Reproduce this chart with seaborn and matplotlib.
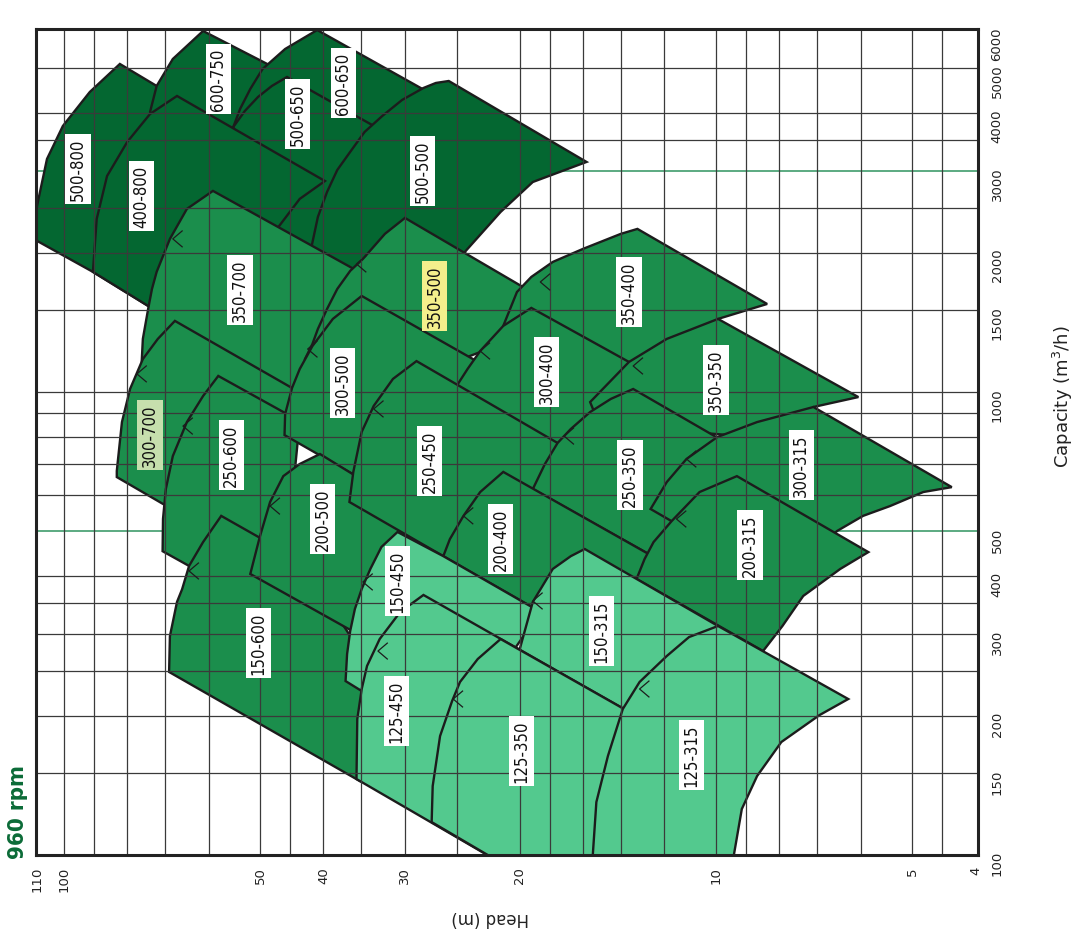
import matplotlib
matplotlib.use('Agg')
import matplotlib.pyplot as plt
from matplotlib.ticker import FixedLocator, NullLocator
import seaborn as sns

# pump areas, outline points as (head m, capacity m3/h)
h_500_800 = [110.0, 110.8, 110.0, 106.2, 100.4, 91.3, 82.1, 72.1, 64.1, 61.9, 74.3, 90.3]
q_500_800 = [2120, 2307, 2522, 3186, 3754, 4445, 5110, 4580, 3985, 2612, 1534, 1817]

h_600_750 = [71.3, 73.8, 72.1, 68.1, 61.2, 48.8, 39.1, 43.5]
q_600_750 = [3519, 4025, 4580, 5238, 6020, 5110, 4337, 3349]

h_600_650 = [55.0, 53.7, 51.8, 49.6, 45.8, 40.9, 28.2, 23.8, 32.8]
q_600_650 = [3735, 4085, 4512, 4984, 5505, 6050, 4512, 3945, 3349]

h_500_650 = [55.0, 52.8, 50.4, 48.0, 45.5, 33.9, 28.4, 38.4, 46.6]
q_500_650 = [3735, 4045, 4337, 4580, 4790, 3791, 3349, 1919, 2141]

h_400_800 = [90.3, 89.1, 85.9, 80.0, 73.8, 67.1, 39.8, 43.5, 46.9, 50.1, 55.6, 74.3]
q_400_800 = [1817, 2364, 2927, 3467, 3985, 4358, 2855, 2612, 2272, 1938, 1270, 1534]

h_500_500 = [40.5, 41.7, 40.8, 39.5, 38.1, 36.4, 34.6, 32.5, 30.3, 28.1, 26.9, 25.7,
             15.8, 19.1, 21.4, 24.2, 26.5]
q_500_500 = [1588, 2068, 2388, 2704, 3016, 3300, 3643, 3945, 4273, 4535, 4649, 4695,
             3139, 2841, 2448, 2017, 1669]

h_350_700 = [76.0, 75.7, 74.3, 73.3, 72.1, 68.8, 64.8, 59.1, 36.4, 32.8, 39.1, 73.8]
q_350_700 = [1166, 1302, 1511, 1669, 1817, 2141, 2485, 2718, 1862, 1711, 874, 1015]

h_300_700 = [83.0, 83.0, 81.5, 79.2, 75.7, 71.8, 67.6, 44.7, 43.5, 61.9, 70.5]
q_300_700 = [655, 675, 861, 1015, 1178, 1302, 1424, 1020, 966, 519, 573]

h_250_600 = [70.6, 70.5, 69.8, 68.1, 64.8, 61.2, 58.0, 45.5, 43.5, 45.0, 55.6, 64.3]
q_250_600 = [453, 532, 617, 727, 861, 980, 1083, 896, 866, 532, 375, 421]

h_350_500 = [42.7, 41.6, 40.8, 39.5, 38.1, 36.4, 34.8, 32.2, 30.0, 19.9, 18.6, 21.4, 35.2]
q_350_500 = [1178, 1269, 1368, 1511, 1669, 1826, 1938, 2195, 2376, 1694, 1588, 1269, 966]

h_350_400 = [21.2, 20.2, 19.2, 17.8, 16.0, 14.0, 13.2, 8.35, 9.93, 9.93, 14.0, 20.0]
q_350_400 = [1389, 1644, 1772, 1909, 2037, 2195, 2250, 1549, 1438, 1334, 1110, 1302]

h_300_500 = [45.9, 45.8, 44.7, 43.5, 41.6, 38.7, 34.95, 23.6, 22.2, 28.4, 36.1]
q_300_500 = [807, 896, 1020, 1121, 1256, 1438, 1612, 1178, 1121, 874, 665]

h_300_400 = [25.0, 24.05, 23.0, 21.2, 19.2, 13.6, 13.1, 14.0, 17.3, 23.8]
q_300_400 = [1030, 1121, 1226, 1389, 1519, 1161, 1067, 791.5, 731, 966]

h_150_600 = [69.0, 68.8, 67.1, 65.9, 64.3, 61.2, 57.4, 50.3, 43.5, 34.5, 34.5, 35.2]
q_150_600 = [248.5, 297, 352, 375, 421, 474, 540, 486, 436, 265, 217, 144.5]

h_200_500 = [51.8, 50.1, 48.3, 46.1, 43.5, 40.5, 36.1, 30.5, 28.4, 31.6, 35.7]
q_200_500 = [404.5, 486, 578.6, 658, 699, 734.6, 665, 682, 532, 436, 301.7]

h_350_350 = [9.93, 6.05, 7.09, 7.97, 12.6, 15.33, 15.6, 13.6, 11.9]
q_350_350 = [1438, 975, 928, 791.5, 832, 896, 951, 1161, 1302]

h_250_450 = [36.5, 36.0, 34.95, 33.5, 31.3, 28.8, 17.5, 15.1, 20.0, 26.2]
q_250_450 = [578.6, 672, 820, 933, 1067, 1166, 776, 682, 436, 442]

h_250_350 = [19.1, 18.3, 17.5, 16.7, 15.6, 14.5, 13.4, 9.99, 9.19, 11.0, 12.7]
q_250_350 = [617, 699, 776, 832, 905, 966, 1015, 799, 731, 481, 447]

h_200_400 = [26.2, 25.6, 24.4, 23.0, 21.2, 12.7, 10.6, 15.1, 18.6]
q_200_400 = [442, 481, 540, 608, 672, 447, 385, 278.5, 335]

h_300_315 = [12.6, 11.9, 11.1, 9.96, 8.65, 7.09, 4.35, 4.81, 5.41, 5.95, 6.52, 7.17, 10.6, 11.7]
q_300_315 = [558.8, 639, 716.6, 799, 861, 928, 623, 608, 567, 540, 501, 447, 469.6, 526]

h_200_315 = [13.24, 12.87, 12.47, 11.7, 10.6, 9.29, 5.84, 6.45, 7.35, 7.91, 8.47]
q_200_315 = [394.6, 435.8, 474, 526, 608, 658, 451, 414.7, 362.6, 312.3, 275.7]

h_150_450 = [37.0, 36.8, 36.4, 35.8, 34.95, 33.9, 32.6, 30.8, 26.2, 18.6, 25.6, 34.95]
q_150_450 = [237.5, 271.7, 304.6, 339.9, 375.4, 414.7, 462.6, 498.4, 442, 335, 175.4, 226]

h_150_315 = [20.56, 20.0, 19.1, 17.8, 16.7, 15.9, 9.93, 12.6]
q_150_315 = [217, 278.5, 352, 414.7, 442, 458, 312.3, 132.1]

h_125_450 = [35.6, 35.5, 34.95, 34.3, 32.8, 30.5, 28.1, 13.5, 15.1, 19.4]
q_125_450 = [145.9, 196.6, 228.3, 256, 292.7, 335, 364.4, 202.6, 88.8, 88.8]

h_125_350 = [27.3, 27.2, 26.5, 25.4, 24.7, 23.2, 21.4, 13.5, 15.1, 19.4]
q_125_350 = [117.8, 140.9, 180.7, 215, 236.4, 265, 292.7, 202.6, 88.8, 88.8]

h_125_315 = [15.55, 15.45, 15.26, 14.65, 13.9, 13.1, 11.9, 11.0, 9.93, 6.27, 6.94, 7.94, 8.65, 9.13, 9.39, 9.42]
q_125_315 = [88.8, 100.5, 130.1, 163.6, 206.7, 236.4, 269, 295.6, 312.3, 217.2, 200.5, 175.4, 148.1, 125.7, 100, 88.8]

# drawing order, back to front
tiles = [
    ('500-800', h_500_800, q_500_800, 'dark'),
    ('600-750', h_600_750, q_600_750, 'dark'),
    ('600-650', h_600_650, q_600_650, 'dark'),
    ('500-650', h_500_650, q_500_650, 'dark'),
    ('400-800', h_400_800, q_400_800, 'dark'),
    ('500-500', h_500_500, q_500_500, 'dark'),
    ('350-700', h_350_700, q_350_700, 'mid'),
    ('300-700', h_300_700, q_300_700, 'mid'),
    ('250-600', h_250_600, q_250_600, 'mid'),
    ('350-500', h_350_500, q_350_500, 'mid'),
    ('350-400', h_350_400, q_350_400, 'mid'),
    ('300-500', h_300_500, q_300_500, 'mid'),
    ('300-400', h_300_400, q_300_400, 'mid'),
    ('150-600', h_150_600, q_150_600, 'mid'),
    ('200-500', h_200_500, q_200_500, 'mid'),
    ('350-350', h_350_350, q_350_350, 'mid'),
    ('250-450', h_250_450, q_250_450, 'mid'),
    ('250-350', h_250_350, q_250_350, 'mid'),
    ('200-400', h_200_400, q_200_400, 'mid'),
    ('300-315', h_300_315, q_300_315, 'mid'),
    ('200-315', h_200_315, q_200_315, 'mid'),
    ('150-450', h_150_450, q_150_450, 'light'),
    ('150-315', h_150_315, q_150_315, 'light'),
    ('125-450', h_125_450, q_125_450, 'light'),
    ('125-350', h_125_350, q_125_350, 'light'),
    ('125-315', h_125_315, q_125_315, 'light'),
]
shades = {'dark': '#046731', 'mid': '#1b8e4c', 'light': '#53c98e'}

# label positions (head, capacity)
label_names = ['500-800', '400-800', '600-750', '500-650', '600-650', '500-500', '350-700',
               '350-500', '300-700', '300-500', '350-400', '300-400', '250-600', '250-450',
               '350-350', '250-350', '300-315', '200-500', '200-400', '200-315', '150-450',
               '150-315', '150-600', '125-450', '125-350', '125-315']
label_h = [95.2, 76.0, 58.0, 43.8, 37.3, 28.2, 53.7, 27.0, 73.8, 37.4, 13.6, 18.2, 55.4, 27.5,
           10.0, 13.55, 7.40, 40.1, 21.4, 8.87, 30.8, 15.0, 50.3, 30.9, 19.9, 10.9]
label_q = [3031, 2651, 4742, 3985, 4649, 3001, 1661, 1612, 807, 1046, 1644, 1104, 731, 709.5,
           1062, 661.7, 695, 531.7, 481.4, 467, 390.7, 304.6, 287, 204.6, 167.7, 164.4]
label_bg = {'300-700': '#c6dfad', '350-500': '#f4ef8c'}

# small efficiency marks on the curves
tick_h = [68.1, 77.3, 65.7, 64.3, 48.3, 42.3, 33.5, 35.6, 23.0, 18.6, 17.1, 24.4, 34.8, 33.0,
          25.3, 19.1, 13.1, 11.1, 11.5, 13.4]
tick_q = [2141, 1094, 844, 410.6, 567, 1238, 919, 1890, 1226, 1728, 803, 540, 388.8, 275.7,
          217.2, 353.7, 228.3, 716.6, 531.7, 1138]

grid_heads = [100, 90, 80, 70, 60, 50, 45, 40, 35, 30, 25, 20, 18, 16, 14, 12, 10, 9, 8, 7, 6, 5, 4.5]
grid_caps = [150, 200, 250, 300, 350, 400, 600, 700, 800, 900, 1000, 1500, 2000, 2500, 3500, 4000, 5000]
green_caps = [500, 3000]

head_ticks = [110, 100, 50, 40, 30, 20, 10, 5, 4]
cap_ticks = [100, 150, 200, 300, 400, 500, 1000, 1500, 2000, 3000, 4000, 5000, 6000]

sns.set_style('white')
plt.rcParams['font.family'] = ['DejaVu Sans']

fig = plt.figure(figsize=(10.79, 9.37), dpi=100)
ax = fig.add_axes([36 / 1079, 81 / 937, 942 / 1079, 826 / 937])
ax.set_xscale('log')
ax.set_yscale('log')
ax.set_xlim(110.4, 3.965)
ax.set_ylim(100, 6080)

for q in green_caps:
    ax.axhline(q, color='#3f9c6c', lw=1.2, zorder=1)

for name, hs, qs, shade in tiles:
    ax.fill(hs, qs, facecolor=shades[shade], edgecolor='#1c1c1c', lw=1.7,
            joinstyle='miter', zorder=2)

for h in grid_heads:
    ax.axvline(h, color='#3a3a3a', lw=0.9, zorder=3)
for q in grid_caps:
    ax.axhline(q, color='#3a3a3a', lw=0.9, zorder=3)

chevron = [(1.0, 0.85), (0.0, 0.0), (1.0, -0.85)]
sns.scatterplot(x=tick_h, y=tick_q, marker=chevron, s=200, color='none',
                edgecolor='#1c1c1c', linewidth=0.9, ax=ax, zorder=4, legend=False)

for name, h, q in zip(label_names, label_h, label_q):
    ax.text(h, q, name, rotation=90, ha='center', va='center', fontsize=12,
            fontstretch='condensed', color='#111111', zorder=5,
            bbox=dict(boxstyle='square,pad=0.22', fc=label_bg.get(name, 'white'), ec='none'))

ax.xaxis.set_major_locator(FixedLocator(head_ticks))
ax.xaxis.set_minor_locator(NullLocator())
ax.set_xticklabels([str(v) for v in head_ticks])
ax.yaxis.tick_right()
ax.yaxis.set_major_locator(FixedLocator(cap_ticks))
ax.yaxis.set_minor_locator(NullLocator())
ax.set_yticklabels([str(v) for v in cap_ticks])
ax.tick_params(axis='x', length=0, pad=8, labelrotation=90, labelsize=9.5, colors='#222222')
ax.tick_params(axis='y', length=0, pad=9, labelrotation=90, labelsize=9.5, colors='#222222')
for sp in ax.spines.values():
    sp.set_linewidth(2.2)
    sp.set_color('#222222')
    sp.set_zorder(6)

fig.text(490 / 1079, 1 - 918 / 937, 'Head (m)', rotation=180, ha='center', va='center',
         fontsize=12, color='#222222')
fig.text(1063 / 1079, 1 - 397 / 937, 'Capacity (m$^3$/h)', rotation=90, ha='center',
         va='center', fontsize=13, color='#222222')
fig.text(18 / 1079, 1 - 812 / 937, '960 rpm', rotation=90, ha='center', va='center',
         fontsize=16, fontweight='bold', fontstretch='condensed', color='#0b6b37')

fig.savefig('out.png', dpi=100)
